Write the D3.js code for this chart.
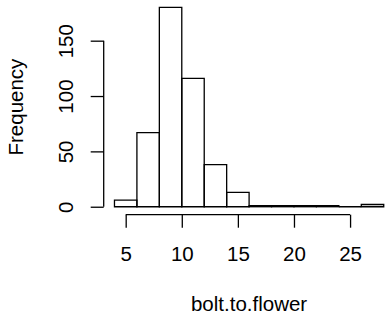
<!DOCTYPE html>
<html>
<head>
<meta charset="utf-8">
<script src="https://cdn.jsdelivr.net/npm/d3@7"></script>
<style>
  html, body { margin: 0; padding: 0; background: #fff; }
  svg { display: block; }
  text { font-family: "Liberation Sans", Arial, Helvetica, sans-serif; fill: #000; }
</style>
</head>
<body>
<script>
// Histogram data: bin edges and counts
const breaks = [4, 6, 8, 10, 12, 14, 16, 18, 20, 22, 24, 26, 28];
const counts = [6, 67, 180, 116, 38, 13, 1, 1, 1, 1, 0, 2];
const xTicks = [5, 10, 15, 20, 25];
const yTicks = [0, 50, 100, 150];
const xLabel = "bolt.to.flower";
const yLabel = "Frequency";

const W = 385, H = 318;
const fontSize = 20.5;

const svg = d3.select("body").append("svg").attr("width", W).attr("height", H);

// R-style 4% axis extension
const xMin = d3.min(breaks), xMax = d3.max(breaks);
const xPad = (xMax - xMin) * 0.04;
const yMaxV = d3.max(counts);
const yPad = yMaxV * 0.04;

const x = d3.scaleLinear().domain([xMin - xPad, xMax + xPad]).range([103.7, 394.5]);
const y = d3.scaleLinear().domain([-yPad, yMaxV + yPad]).range([214.7, -0.5]);

const bins = counts.map((c, i) => ({ x0: breaks[i], x1: breaks[i + 1], n: c }));

svg.append("g").selectAll("path").data(bins).join("path")
  .attr("d", d => {
    const l = x(d.x0), r = x(d.x1), t = y(d.n), b = y(0);
    return `M${l},${b}V${t}H${r}V${b}Z`;
  })
  .attr("fill", "none")
  .attr("stroke", "#000")
  .attr("stroke-width", 1.3);

// X axis
const xAxis = d3.axisBottom(x).tickValues(xTicks).tickSize(13).tickPadding(0).tickFormat(d3.format("d"));
const gx = svg.append("g").attr("transform", `translate(0,${y.range()[0]})`).call(xAxis);
gx.select(".domain").attr("d", `M${x(xTicks[0])},0H${x(xTicks[xTicks.length - 1])}`)
  .attr("stroke-width", 1.3);
gx.selectAll(".tick line").attr("stroke-width", 1.3);
gx.selectAll(".tick text").attr("dy", null).attr("y", 46.3)
  .style("font-size", fontSize + "px").style("font-family", '"Liberation Sans", Arial, sans-serif');

// Y axis
const yAxis = d3.axisLeft(y).tickValues(yTicks).tickSize(13).tickFormat(d3.format("d"));
const gy = svg.append("g").attr("transform", `translate(${x.range()[0]},0)`).call(yAxis);
gy.select(".domain").attr("d", `M0,${y(yTicks[0])}V${y(yTicks[yTicks.length - 1])}`)
  .attr("stroke-width", 1.3);
gy.selectAll(".tick line").attr("stroke-width", 1.3);
gy.selectAll(".tick text")
  .attr("x", null).attr("dy", null)
  .attr("transform", "translate(-30.5,0) rotate(-90)")
  .attr("text-anchor", "middle")
  .style("font-size", fontSize + "px").style("font-family", '"Liberation Sans", Arial, sans-serif');

// Axis titles
svg.append("text")
  .attr("x", (x.range()[0] + x.range()[1]) / 2)
  .attr("y", 311)
  .attr("text-anchor", "middle")
  .style("font-size", fontSize + "px")
  .text(xLabel);

svg.append("text")
  .attr("transform", `translate(23.3,${(y.range()[0] + y.range()[1]) / 2}) rotate(-90)`)
  .attr("text-anchor", "middle")
  .style("font-size", fontSize + "px")
  .text(yLabel);
</script>
</body>
</html>
